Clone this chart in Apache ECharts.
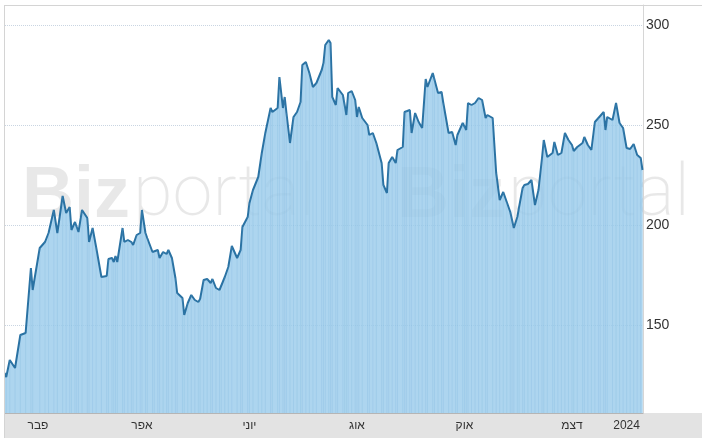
<!DOCTYPE html>
<html><head><meta charset="utf-8">
<script src="https://cdn.jsdelivr.net/npm/echarts@6/dist/echarts.min.js"></script>
<style>html,body{margin:0;padding:0;background:#fff}#c{width:702px;height:438px}</style>
</head><body><div id="c"></div><script>
// Day number counted from 2023-01-01 (day 0)
const days = [12,13,15,18,21,24,27,28,32,35,37,40,42,45,47,49,50,52,53,54,56,59,60,62,64,67,70,71,73,74,75,76,79,80,82,84,85,87,89,90,92,93,96,97,99,100,102,104,105,107,109,110,113,114,116,118,120,122,123,125,127,129,130,132,134,135,137,139,141,144,146,147,150,151,153,156,158,160,163,164,167,168,170,171,172,174,176,178,180,181,183,185,187,189,192,193,194,196,197,198,200,201,204,205,206,207,209,211,212,213,215,218,219,221,223,226,227,229,230,232,234,235,238,239,240,242,243,245,247,249,251,252,255,256,258,260,261,264,266,268,269,272,273,274,275,277,279,281,283,285,286,289,291,293,295,297,299,300,301,303,304,306,307,309,311,313,315,317,318,320,323,324,326,328,330,332,334,335,337,340,341,343,345,347,349,350,352,353,354,357,359,361,363,365,367,369,371,373,374];
const prices = [126,124,132.5,128.5,145,146,178.5,167.5,188.5,191.5,196,207.5,196,214.5,206,209,197.5,201.5,202.5,196.5,207.5,203.5,191.5,198.5,189,174,174.5,183,183.5,181.5,184.5,181.5,198.5,191.5,192.5,191.5,190,195,196,207.5,196,193.5,186.5,186,187.5,183.5,186.5,185.5,187.5,183.5,173.5,166,163.5,155,161,165,162.5,161.5,163,172.5,173,171,173,168.5,167.5,167,174,179,189.5,183.5,187.5,199,204,211,217.5,224,236,246,258.5,256.5,258.5,274,258.5,264,256,241,254,256.5,261.5,280,281.5,276,269,271,277.5,281,290,292.5,291,264,260,268.5,265,264,255,266,267,262.5,254,259,253.5,250,245,246,241,231,220,216,231,234,231,237.5,239,256.5,257.5,257.5,246,256,251.5,248.5,273,269,276,275,266,266.5,261,246,246.5,240,245,251,251.5,247.5,261,260,261,263.5,262.5,253.5,255,253.5,226,212.5,216.5,211.5,206.5,207.5,198.5,204,209,218.5,220,220.5,222.5,210,217.5,233.5,242.5,234,236,241.5,235,236,246,242.5,240,237,239,241,244,240,237.5,251.5,253.5,252.5,256.5,247.5,254,252.5,261,251,248.5,238.5,238,240.5,235,233.5,227.5];
const tickDays = [31,90,151,212,273,334,365];
const tickLabels = ['פבר','אפר','יוני','אוג','אוק','דצמ','2024'];
const yTicks = [150,200,250,300];

const chart = echarts.init(document.getElementById('c'), null, {renderer:'canvas'});
const series = days.map((d,i)=>[d, prices[i]]);
const wmStyle = {fill:'rgba(0,0,0,0.09)', fontSize:72, verticalAlign:'middle'};
chart.setOption({
  animation:false,
  backgroundColor:'#fff',
  grid:{left:5, right:59, top:5, bottom:25},
  xAxis:{type:'value', min:12.3, max:374.3,
    axisLine:{show:true, lineStyle:{color:'#b5b5b5', width:1}},
    axisTick:{show:false}, splitLine:{show:false},
    axisLabel:{customValues:tickDays, formatter:v=>tickLabels[tickDays.indexOf(v)], color:'#333', fontSize:12, margin:7, fontFamily:'Liberation Sans, Arial, sans-serif'}},
  yAxis:{type:'value', position:'right', min:106, max:310, splitNumber:4,
    axisLine:{show:true, lineStyle:{color:'#d6d6d6'}},
    axisTick:{show:false},
    axisLabel:{customValues:yTicks, color:'#333', fontSize:14, margin:3, fontFamily:'Liberation Sans, Arial, sans-serif'},
    splitLine:{show:true, lineStyle:{type:'dotted', color:'#c9d5e2', width:1}}},
  series:[
    {type:'bar', data:series, barWidth:1, silent:true, itemStyle:{color:'rgba(110,170,215,0.2)'}, z:3},
    {type:'line', data:series, showSymbol:false, smooth:false,
    lineStyle:{color:'#2a72a3', width:2},
    areaStyle:{color:'rgb(152,203,235)', opacity:0.8, origin:'start'}, z:2}],
  graphic:[
    {type:'rect', silent:true, z:-10, shape:{x:4,y:413,width:698,height:25}, style:{fill:'#e3e3e3'}},
    {type:'line', silent:true, z:50, shape:{x1:4,y1:5.5,x2:702,y2:5.5}, style:{stroke:'#d4d4d4', lineWidth:1}},
    {type:'line', silent:true, z:50, shape:{x1:4.5,y1:5,x2:4.5,y2:438}, style:{stroke:'#d4d4d4', lineWidth:1}},
    {type:'text', silent:true, z:-5, style:Object.assign({x:22, y:197, text:'Biz', fontWeight:'bold', fontFamily:'Liberation Sans, Arial'}, wmStyle)},
    {type:'text', silent:true, z:-5, style:Object.assign({x:133, y:197, text:'portal', fontWeight:200, fontFamily:'Roboto, Lato'}, wmStyle)},
    {type:'text', silent:true, z:-5, style:Object.assign({x:397, y:197, text:'Biz', fontWeight:'bold', fontFamily:'Liberation Sans, Arial'}, wmStyle)},
    {type:'text', silent:true, z:-5, style:Object.assign({x:508, y:197, text:'portal', fontWeight:200, fontFamily:'Roboto, Lato'}, wmStyle)}
  ]
});
</script></body></html>
